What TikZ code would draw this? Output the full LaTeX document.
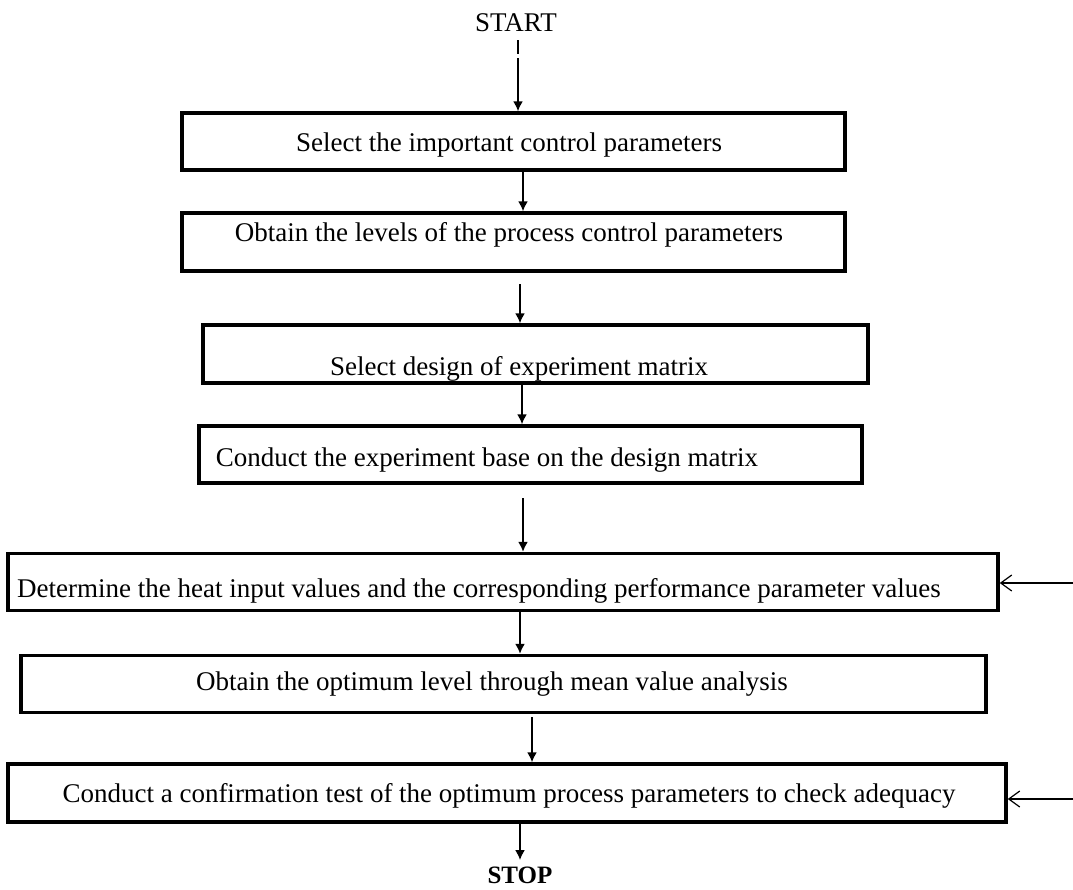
\documentclass[tikz,border=0pt]{standalone}
\usepackage{fontspec}
\setmainfont{Liberation Serif}
\usetikzlibrary{arrows.meta,calc}
\begin{document}
\begin{tikzpicture}[x=1pt,y=-1pt,
  stepbox/.style={draw=black,line width=3.5pt,inner sep=0pt,fill=none},
  lbl/.style={font=\fontsize{27}{30}\selectfont,inner sep=0pt,anchor=base},
  arr/.style={line width=1.6pt,-{Latex[length=10pt,width=10pt]}},
  sidearr/.style={line width=1.2pt,-{Straight Barb[length=11pt,width=16pt,line width=1.2pt]}}]
\useasboundingbox (0,0) rectangle (1073,889);
% boxes
\node[stepbox,minimum width=663pt,minimum height=57pt] (b1) at (513.5,141.5) {};
\node[stepbox,minimum width=663pt,minimum height=58pt] (b2) at (513.5,242) {};
\node[stepbox,minimum width=665pt,minimum height=58pt] (b3) at (535.5,354) {};
\node[stepbox,minimum width=663pt,minimum height=57pt] (b4) at (530.5,454.5) {};
\node[stepbox,minimum width=990pt,minimum height=57pt] (b5) at (503,582) {};
\node[stepbox,minimum width=965pt,minimum height=57pt] (b6) at (503.5,684) {};
\node[stepbox,minimum width=998pt,minimum height=58pt] (b7) at (507,793) {};
% texts
\node[lbl] (t1) at (509,151) {Select the important control parameters};
\node[lbl] (t2) at (509,241) {Obtain the levels of the process control parameters};
\node[lbl] (t3) at (519,375) {Select design of experiment matrix};
\node[lbl] (t4) at (487,466) {Conduct the experiment base on the design matrix};
\node[lbl] (t5) at (479,597) {Determine the heat input values and the corresponding performance parameter values};
\node[lbl] (t6) at (492,690) {Obtain the optimum level through mean value analysis};
\node[lbl] (t7) at (509,802) {Conduct a confirmation test of the optimum process parameters to check adequacy};
\node[lbl] (start) at (516,31) {START};
\node[lbl,font=\fontsize{25}{28}\selectfont\bfseries] (stop) at (520,883) {STOP};
% helper coordinates
\coordinate (x0) at (518,0);
\coordinate (x1) at (523,0);
\coordinate (x2) at (520,0);
\coordinate (x3) at (522,0);
\coordinate (x4) at (523,0);
\coordinate (x5) at (520,0);
\coordinate (x6) at (532,0);
\coordinate (x7) at (520,0);
\coordinate (s0a) at (518,40);
\coordinate (s0b) at (518,54);
\coordinate (s0c) at (518,58);
\coordinate (f2) at (520,284);
\coordinate (f4) at (523,498);
\coordinate (f6) at (532,717);
\coordinate (e5) at (1073,583);
\coordinate (e7) at (1073,799);
\coordinate (stoptop) at (520,860);
% connectors
\draw[line width=1.6pt] (s0a) -- (s0b);
\draw[arr] (s0c) -- (b1.north -| x0);
\draw[arr] (b1.south -| x1) -- (b2.north -| x1);
\draw[arr] (f2) -- (b3.north -| x2);
\draw[arr] (b3.south -| x3) -- (b4.north -| x3);
\draw[arr] (f4) -- (b5.north -| x4);
\draw[arr] (b5.south -| x5) -- (b6.north -| x5);
\draw[arr] (f6) -- (b7.north -| x6);
\draw[arr] (b7.south -| x7) -- (stoptop);
\draw[sidearr] (e5) -- (b5.east |- e5);
\draw[sidearr] (e7) -- (b7.east |- e7);
\end{tikzpicture}
\end{document}
